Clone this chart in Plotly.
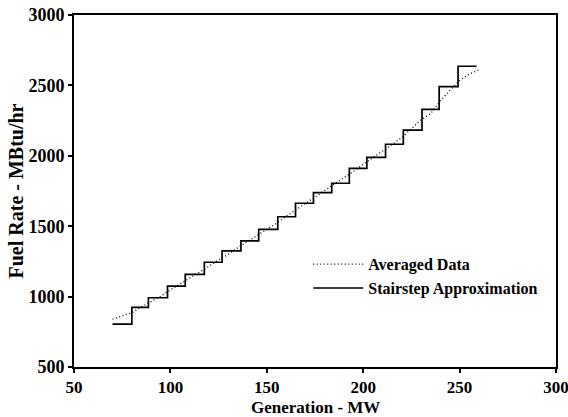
import plotly.graph_objects as go

# Averaged data (dotted)
avg_mw = [70, 75, 80, 85, 90, 95, 100, 105, 110, 115, 120, 125, 130, 135, 140, 145,
          150, 155, 160, 165, 170, 175, 180, 185, 190, 195, 200, 205, 210, 215, 220,
          225, 230, 235, 240, 245, 250, 255, 260]
avg_fuel = [840, 862, 885, 927, 962, 1003, 1048, 1090, 1128, 1175, 1215, 1262, 1300,
            1348, 1390, 1432, 1480, 1520, 1570, 1615, 1660, 1705, 1755, 1795, 1845,
            1890, 1940, 1985, 2030, 2080, 2130, 2195, 2255, 2300, 2390, 2465, 2535,
            2580, 2610]

# Stairstep approximation: step start positions and levels
step_mw = [70, 80, 88.6, 98.5, 107.7, 117.6, 126.8, 136.6, 145.8, 155.7, 164.9, 174.2,
           183.7, 192.8, 201.9, 211.6, 220.8, 230.5, 239.4, 249.2]
step_fuel = [805, 924, 992, 1075, 1158, 1244, 1325, 1396, 1478, 1567, 1663, 1738,
             1805, 1911, 1989, 2082, 2183, 2330, 2491, 2636]
step_end_mw = 258.8

font_family = "Liberation Serif"

fig = go.Figure()
fig.add_trace(go.Scatter(
    x=avg_mw, y=avg_fuel, mode="lines", name="Averaged Data",
    line=dict(color="black", width=1.3, dash="1px,2.5px"),
))
fig.add_trace(go.Scatter(
    x=step_mw + [step_end_mw], y=step_fuel + [step_fuel[-1]], mode="lines",
    name="Stairstep Approximation", line=dict(color="black", width=1.7, shape="hv"),
))

axis_common = dict(
    showline=True, linecolor="black", linewidth=1.6, mirror=True,
    ticks="outside", ticklen=4, tickwidth=1.5, tickcolor="black",
    showgrid=False, zeroline=False, automargin=False,
    ticklabeloverflow="allow",
)

fig.update_layout(
    width=568, height=417,
    margin=dict(l=74, r=12, t=15, b=50, autoexpand=False),
    paper_bgcolor="white", plot_bgcolor="white",
    font=dict(family=font_family, color="black"),
    xaxis=dict(range=[50, 300], dtick=50, tick0=50,
               tickfont=dict(family=font_family, size=17, color="black", weight="bold"),
               **axis_common),
    yaxis=dict(range=[500, 3000], dtick=500, tick0=500,
               tickfont=dict(family=font_family, size=18, color="black", weight="bold"),
               title=dict(text="Fuel Rate - MBtu/hr", standoff=0,
                          font=dict(family=font_family, size=20, color="black",
                                    weight="bold")),
               **axis_common),
    legend=dict(x=0.486, y=0.34, xanchor="left", yanchor="top",
                bgcolor="rgba(0,0,0,0)", itemwidth=50,
                font=dict(family=font_family, size=16, color="black", weight="bold")),
    annotations=[dict(
        text="Generation - MW", xref="paper", yref="paper", x=0.5, y=-0.116,
        xanchor="center", yanchor="middle", showarrow=False,
        font=dict(family=font_family, size=17, color="black", weight="bold"),
    )],
)

fig.write_html("out.html")
